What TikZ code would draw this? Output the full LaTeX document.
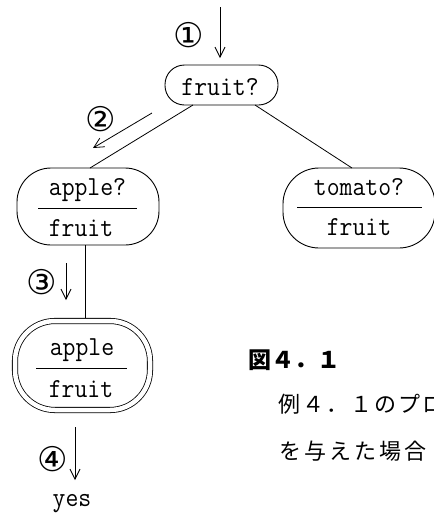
\documentclass[tikz,border=0pt]{standalone}
\usepackage{fontspec}
\newfontfamily\jp{Noto Sans CJK JP}
\newfontfamily\djv{DejaVu Sans}
\usetikzlibrary{arrows.meta}
\newcommand\jcw[2]{\makebox[#1][c]{#2}}
\begin{document}
\begin{tikzpicture}[x=1pt,y=-1pt,
  box/.style={draw,line width=0.9pt,rounded corners=#1,inner sep=0pt,outer sep=0pt},
  lbl/.style={font=\ttfamily\fontsize{25}{25}\selectfont,anchor=base,inner sep=0pt},
  num/.style={font=\djv\fontsize{34}{34}\selectfont,inner sep=0pt},
  arr/.style={line width=0.8pt,-{Straight Barb[length=10pt,width=10pt]}},
  link/.style={line width=0.8pt},
  rulel/.style={line width=1pt},
  captxt/.style={anchor=west,inner sep=0pt},
]
\useasboundingbox (0,0) rectangle (434,515);
\clip (0,0) rectangle (434,515);

% tree nodes
\node[box=19.5pt,minimum width=113pt,minimum height=40pt] (fruit) at (221.5,85) {};
\node[lbl] (tfruit) at (220,95) {\scalebox{1}[1.1]{fruit?}};

\node[box=34pt,minimum width=142pt,minimum height=77pt] (apple1) at (88,206.5) {};
\node[lbl] (tapple1) at (87.5,195) {\scalebox{1}[1.1]{apple?}};
\node[lbl] (tfruit1) at (81,236) {\scalebox{1}[1.1]{fruit}};
\draw[rulel] (38,208) -- (137,208);

\node[box=36pt,minimum width=152pt,minimum height=80pt] (tomato) at (359,208) {};
\node[lbl] (ttomato) at (359,195) {\scalebox{1}[1.1]{tomato?}};
\node[lbl] (tfruit2) at (359,235) {\scalebox{1}[1.1]{fruit}};
\draw[rulel] (297,207) -- (422,207);

\node[box=40pt,double,double distance=4.5pt,line width=0.8pt,minimum width=135pt,minimum height=89pt] (apple2) at (82.5,365.5) {};
\node[lbl] (tapple2) at (82,355) {\scalebox{1}[1.1]{apple}};
\node[lbl] (tfruit3) at (81,397) {\scalebox{1}[1.1]{fruit}};
\draw[rulel] (36,368) -- (127,368);

\node[lbl] (yes) at (72,506) {\scalebox{1}[1.1]{yes}};

% connectors
\draw[link] ([xshift=-28.5pt]fruit.south) -- ([xshift=2pt]apple1.north);
\draw[link] ([xshift=33.5pt]fruit.south) -- ([xshift=-7pt]tomato.north);
\draw[link] ([xshift=-3pt]apple1.south) -- ([xshift=2.5pt,yshift=2.6pt]apple2.north);

% step arrows
\coordinate (a1s) at (220,7);   \coordinate (a1e) at (220,58);
\coordinate (a2s) at (152,113); \coordinate (a2e) at (93,148);
\coordinate (a3s) at (66,263);  \coordinate (a3e) at (66,300);
\coordinate (a4s) at (75,427);  \coordinate (a4e) at (75,480);
\draw[arr] (a1s) -- (a1e);
\draw[arr] (a2s) -- (a2e);
\draw[arr] (a3s) -- (a3e);
\draw[arr] (a4s) -- (a4e);
\node[num] (n1) at (189,35) {①};
\node[num] (n2) at (101,119) {②};
\node[num] (n3) at (42,282) {③};
\node[num] (n4) at (53,459) {④};

% caption
\node[captxt,font=\jp\bfseries\fontsize{23}{23}\selectfont] (c1) at (248.5,360)
  {\jcw{23pt}{図}\jcw{23pt}{４}\jcw{23pt}{．}\jcw{23pt}{１}};
\node[captxt,font=\jp\fontsize{22}{22}\selectfont] (c2) at (277,404)
  {\jcw{24pt}{例}\jcw{24pt}{４}\jcw{24pt}{．}\jcw{24pt}{１}\jcw{24pt}{の}\jcw{24pt}{プ}\jcw{24pt}{ロ}};
\node[captxt,font=\jp\fontsize{22}{22}\selectfont] (c3) at (277.5,451)
  {\jcw{25pt}{を}\jcw{25pt}{与}\jcw{25pt}{え}\jcw{25pt}{た}\jcw{25pt}{場}\jcw{25pt}{合}};
\end{tikzpicture}
\end{document}
